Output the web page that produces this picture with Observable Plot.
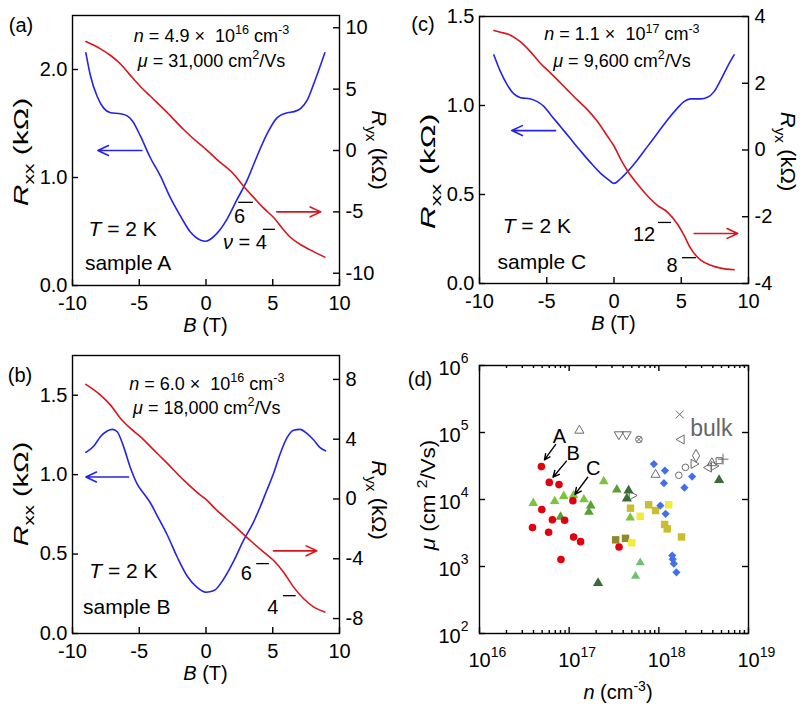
<!DOCTYPE html>
<html>
<head>
<meta charset="utf-8">
<script src="https://cdn.jsdelivr.net/npm/d3@7"></script>
<script src="https://cdn.jsdelivr.net/npm/@observablehq/plot@0.6"></script>
<style>
  body { margin: 0; background: #fff; }
  #fig { position: relative; width: 805px; height: 715px; overflow: hidden; background: #fff; }
  #fig svg { position: absolute; overflow: visible; }
</style>
</head>
<body>
<div id="fig"></div>
<script>
// ---------- Magnetotransport traces (B in T, resistances in kOhm) ----------
const fieldTicks = [-10, -5, 0, 5, 10];

// sample A
const rxxFieldA = [-9.0, -8.65, -8.15, -7.65, -7.15, -6.4, -5.9, -5.5, -4.9, -4.2, -3.4, -2.7, -1.9, -1.2, -0.4, 0, 0.8, 1.6, 2.3, 3.1, 3.8, 4.6, 5.3, 6.1, 6.6, 7.1, 7.6, 8.05, 8.55, 8.9];
const rxxA = [2.155, 1.94, 1.75, 1.64, 1.60, 1.59, 1.57, 1.52, 1.38, 1.19, 1.01, 0.82, 0.64, 0.50, 0.42, 0.41, 0.48, 0.62, 0.79, 0.98, 1.19, 1.41, 1.55, 1.60, 1.61, 1.64, 1.72, 1.86, 2.03, 2.155];
const ryxFieldA = [-9.0, -7.9, -7.15, -6.4, -5.65, -4.9, -4.2, -2.9, -1.7, -0.4, 0, 0.8, 2.1, 2.8, 3.6, 4.3, 5.1, 5.8, 6.3, 7.1, 7.8, 8.9];
const ryxA = [8.88, 8.28, 7.74, 7.05, 6.1, 5.2, 4.46, 3.09, 1.73, 0.45, 0.1, -0.72, -1.95, -2.9, -3.86, -4.68, -5.5, -6.45, -7.05, -7.68, -8.1, -8.69];

// sample B
const rxxFieldB = [-9.0, -8.4, -7.9, -7.4, -7.0, -6.65, -6.15, -5.65, -5.15, -4.65, -4.15, -3.65, -2.9, -2.15, -1.4, -0.67, 0, 0.6, 1.3, 2.1, 2.8, 3.55, 4.05, 4.55, 5.05, 5.55, 6.05, 6.55, 7.05, 7.55, 8.05, 8.55, 8.95];
const rxxB = [1.14, 1.18, 1.24, 1.275, 1.285, 1.27, 1.17, 1.04, 0.94, 0.88, 0.82, 0.74, 0.62, 0.48, 0.36, 0.29, 0.26, 0.27, 0.34, 0.46, 0.585, 0.70, 0.795, 0.90, 1.005, 1.13, 1.23, 1.28, 1.285, 1.26, 1.22, 1.17, 1.15];
const ryxFieldB = [-9.0, -7.9, -7.15, -6.4, -5.65, -4.9, -3.9, -2.9, -1.67, -0.42, 0, 0.8, 2.07, 3.3, 4.3, 5.05, 5.8, 6.55, 7.3, 8.05, 8.9];
const ryxB = [7.67, 6.95, 6.28, 5.39, 4.72, 4.16, 3.27, 2.38, 1.26, 0.26, -0.03, -0.75, -1.75, -2.76, -3.54, -4.1, -4.88, -5.88, -6.66, -7.22, -7.56];

// sample C
const rxxFieldC = [-8.93, -8.44, -7.94, -7.44, -6.95, -6.2, -5.7, -5.2, -4.7, -3.97, -3.2, -2.48, -1.74, -0.99, -0.37, 0, 0.5, 1.0, 1.74, 2.48, 3.23, 3.97, 4.7, 5.2, 5.7, 6.45, 6.95, 7.44, 7.94, 8.44, 8.93];
const rxxC = [1.284, 1.19, 1.116, 1.065, 1.044, 1.037, 1.022, 0.994, 0.947, 0.881, 0.81, 0.744, 0.679, 0.619, 0.581, 0.5625, 0.59, 0.628, 0.694, 0.769, 0.844, 0.919, 0.984, 1.022, 1.037, 1.037, 1.046, 1.078, 1.144, 1.219, 1.284];
const ryxFieldC = [-8.93, -8.44, -7.7, -6.95, -6.2, -5.46, -4.96, -4.2, -3.47, -2.73, -1.98, -1.24, -0.5, 0, 0.5, 1.0, 1.74, 2.48, 3.23, 3.97, 4.7, 5.2, 5.7, 6.45, 7.2, 7.94, 8.93];
const ryxC = [3.58, 3.53, 3.44, 3.24, 2.94, 2.59, 2.40, 2.10, 1.80, 1.50, 1.21, 0.86, 0.42, 0.12, -0.28, -0.62, -1.02, -1.37, -1.66, -1.86, -2.21, -2.55, -2.95, -3.30, -3.45, -3.54, -3.59];

// ---------- Mobility vs carrier density (n in cm^-3, mu in cm^2/Vs) ----------
const filmRedCircles = [[4.9e16, 31000], [6.0e16, 18000], [7.7e16, 16700], [1.1e17, 9600], [3.9e16, 3820], [4.95e16, 7080], [6.5e16, 4980], [5.9e16, 3250], [8.9e16, 4900], [8.1e16, 1270], [1.12e17, 2750], [1.34e17, 2350], [3.6e17, 1950]];
const filmLightGreen = [[3.98e16, 8800], [6.9e16, 9400], [8.7e16, 11200], [1.12e17, 11500], [1.46e17, 10000], [2.43e17, 18600], [4.8e17, 5340]];
const filmMidGreen = [[8.0e16, 5500], [1.74e17, 8100], [1.66e17, 6500], [3.4e17, 14000]];
const filmDarkGreen = [[4.6e17, 13600], [4.4e17, 10300], [4.7e18, 19500], [2.1e17, 565]];
const filmPaleGreen = [[6.2e17, 1140], [5.5e17, 716]];
const filmOlive = [[4.83e17, 7420], [7.7e17, 8340], [9.2e17, 6850], [1.16e18, 4240], [1.24e18, 3640], [1.79e18, 2760]];
const filmYellow = [[6.2e17, 5620], [1.29e18, 8340], [5.0e17, 2260]];
const filmDarkOlive = [[3.3e17, 2500], [4.25e17, 2630]];
const filmBlue = [[8.8e17, 33800], [1.17e18, 27000], [1.14e18, 17500], [2.35e18, 22000], [1.93e18, 15000], [1.04e18, 8130], [1.19e18, 6120], [1.41e18, 1460], [1.43e18, 1280], [1.47e18, 1100], [1.57e18, 820]];
const bulkTriUp = [[1.3e17, 107000], [9.2e17, 23500], [3.9e18, 35000]];
const bulkTriDown = [[3.58e17, 93500], [4.37e17, 93500]];
const bulkTriLeft = [[1.79e18, 78700], [3.6e18, 30000]];
const bulkTriRight = [[2.45e18, 34000], [4.1e18, 31700], [5.0e17, 11500]];
const bulkCircle = [[1.67e18, 23000], [1.98e18, 30200]];
const bulkCircleTimes = [[6.0e17, 78700]];
const bulkTimes = [[1.71e18, 186000]];
const bulkDiamond = [[2.6e18, 45000]];
const bulkSquare = [[4.7e18, 38000]];
const bulkPlus = [[5.2e18, 40000]];
const densityTicks = [1e16, 1e17, 1e18, 1e19];
const mobilityTicks = [1e2, 1e3, 1e4, 1e5, 1e6];

// ---------- styling ----------
const FONT = "'Liberation Sans', Arial, Helvetica, sans-serif";
const BLUE = "#2424e8", RED = "#d8161c", GRAY = "#6a6a6a";
const fig = document.getElementById("fig");

// text with italic / superscript / subscript runs, centred on (x, y)
function rich(svg, x, y, parts, o = {}) {
  const size = o.size ?? 18;
  const t = d3.select(svg).append("text")
    .attr("transform", `translate(${x},${y}) rotate(${o.rotate ?? 0}) scale(${o.stretch ?? 1},1)`)
    .attr("text-anchor", o.anchor ?? "middle")
    .attr("font-family", FONT).attr("font-size", size)
    .attr("fill", o.fill ?? "black")
    .attr("y", 0.35 * size)
    .style("white-space", "pre");
  let shift = 0;
  for (const p of parts) {
    const q = typeof p === "string" ? {t: p} : p;
    const target = q.sup ? -0.42 * size : q.sub ? 0.28 * size : 0;
    t.append("tspan").attr("dy", target - shift)
      .attr("font-size", q.sup || q.sub ? 0.7 * size : size)
      .attr("font-style", q.i ? "italic" : null)
      .text(q.t);
    shift = target;
  }
  return t;
}

function place(svg, left, top) {
  svg.style.left = left + "px";
  svg.style.top = top + "px";
  fig.appendChild(svg);
}

// inward-pointing tick marks: ticks span the frame, inset to a short stub on one side
const ticksX = (anchor, ticks, len, innerH) => Plot.tickX(ticks, {
  x: d => d, stroke: "black", strokeWidth: 1.4,
  insetTop: anchor === "bottom" ? innerH - len : 0,
  insetBottom: anchor === "top" ? innerH - len : 0
});
const ticksY = (anchor, ticks, len, innerW) => Plot.tickY(ticks, {
  y: d => d, stroke: "black", strokeWidth: 1.4,
  insetRight: anchor === "left" ? innerW - len : 0,
  insetLeft: anchor === "right" ? innerW - len : 0
});

// one R_xx / R_yx panel sharing the field axis
function transportPanel(s) {
  const k = (s.rxxDomain[1] - s.rxxDomain[0]) / (s.ryxDomain[1] - s.ryxDomain[0]);
  const toL = v => s.rxxDomain[0] + (v - s.ryxDomain[0]) * k;
  const fromL = v => s.ryxDomain[0] + (v - s.rxxDomain[0]) / k;
  const rxx = s.rxxField.map((b, i) => ({b, r: s.rxx[i]}));
  const ryx = s.ryxField.map((b, i) => ({b, r: toL(s.ryx[i])}));
  const ryxTickPos = s.ryxTicks.map(toL);
  const innerW = s.width - s.margin[0] - s.margin[1];
  const innerH = s.height - s.margin[2] - s.margin[3];
  const plot = Plot.plot({
    width: s.width, height: s.height,
    marginLeft: s.margin[0], marginRight: s.margin[1], marginTop: s.margin[2], marginBottom: s.margin[3],
    style: {fontFamily: FONT, fontSize: "20px", background: "transparent", color: "black"},
    x: {domain: [-10, 10]},
    y: {domain: s.rxxDomain},
    marks: [
      Plot.line(rxx, {x: "b", y: "r", stroke: BLUE, strokeWidth: 1.6, curve: "monotone-x"}),
      Plot.line(ryx, {x: "b", y: "r", stroke: RED, strokeWidth: 1.6, curve: "monotone-x"}),
      Plot.arrow([s.rxxArrow], {x1: "from", x2: "to", y1: "r", y2: "r", stroke: BLUE, strokeWidth: 1.6, headLength: 11, headAngle: 50}),
      Plot.arrow([s.ryxArrow], {x1: "from", x2: "to", y1: d => toL(d.r), y2: d => toL(d.r), stroke: RED, strokeWidth: 1.6, headLength: 11, headAngle: 50}),
      Plot.ruleY(s.levels, {y: "barR", x1: "bar1", x2: "bar2", stroke: "black", strokeWidth: 1.3}),
      ticksX("bottom", fieldTicks, 6, innerH),
      ticksY("left", s.rxxTicks, 6, innerW),
      ticksY("right", ryxTickPos, 6, innerW),
      Plot.axisX({ticks: fieldTicks, tickSize: 0, tickPadding: 10, tickFormat: d => String(d), label: null}),
      Plot.axisY({anchor: "left", ticks: s.rxxTicks, tickSize: 0, tickPadding: 5, tickFormat: d => d.toFixed(1), label: null}),
      Plot.axisY({anchor: "right", ticks: ryxTickPos, tickSize: 0, tickPadding: 6, tickFormat: v => String(Math.round(fromL(v))), label: null}),
      Plot.frame({stroke: "black", strokeWidth: 1.4})
    ]
  });
  const X = plot.scale("x"), Y = plot.scale("y");
  const px = (b, r) => [X.apply(b), Y.apply(r)];
  const midX = s.margin[0] + innerW / 2, midY = s.margin[2] + innerH / 2;

  rich(plot, ...px(s.info.b, s.info.r1), [{t: "n", i: true}, ` = ${s.info.n} ×  `, "10", {t: s.info.exp, sup: true}, " cm", {t: "-3", sup: true}], {size: 18});
  rich(plot, ...px(s.info.b, s.info.r2), [{t: "μ", i: true}, ` = ${s.info.mu} cm`, {t: "2", sup: true}, "/Vs"], {size: 18});
  rich(plot, ...px(s.temp.b, s.temp.r), [{t: "T", i: true}, " = 2 K"], {size: 21});
  rich(plot, ...px(s.name.b, s.name.r), [s.name.t], {size: 21});
  for (const l of s.levels) rich(plot, ...px(l.b, l.r), l.parts, {size: 20});

  rich(plot, s.titlePos[0], s.titlePos[1], [s.title], {size: 20});
  rich(plot, s.margin[0] - s.leftLabelGap, midY + s.leftLabelDy, [{t: "R", i: true}, {t: "xx", sub: true}, " (kΩ)"], {size: 20, rotate: -90, stretch: s.leftStretch});
  rich(plot, s.width - s.margin[1] + s.rightLabelGap, midY + s.rightLabelDy, [{t: "R", i: true}, {t: "yx", sub: true}, " (kΩ)"], {size: 20, rotate: 90, stretch: 1.1});
  rich(plot, midX, s.height - s.margin[3] + 40, [{t: "B", i: true}, " (T)"], {size: 20});
  place(plot, s.left, s.top);
}

transportPanel({
  left: 0, top: 0, width: 400, height: 340, margin: [72, 61, 15, 55],
  rxxDomain: [0, 2.5], ryxDomain: [-11, 11], rxxTicks: [0, 1, 2], ryxTicks: [-10, -5, 0, 5, 10],
  rxxField: rxxFieldA, rxx: rxxA, ryxField: ryxFieldA, ryx: ryxA,
  rxxArrow: {from: -4.8, to: -8.1, r: 1.25}, ryxArrow: {from: 5.3, to: 8.6, r: -5},
  levels: [
    {parts: ["6"], b: 2.56, r: 0.64, bar1: 2.45, bar2: 3.55, barR: 0.77},
    {parts: [{t: "ν", i: true}, " = 4"], b: 2.95, r: 0.40, bar1: 4.3, bar2: 5.2, barR: 0.52}
  ],
  info: {n: "4.9", exp: "16", mu: "31,000", b: 0.45, r1: 2.31, r2: 2.08},
  temp: {b: -6.2, r: 0.52}, name: {t: "sample A", b: -5.8, r: 0.21},
  title: "(a)", titlePos: [21, 25],
  leftLabelGap: 51, leftLabelDy: 2, leftStretch: 1.5, rightLabelGap: 40, rightLabelDy: 0
});

transportPanel({
  left: 0, top: 340, width: 400, height: 375, margin: [72, 61, 15, 82],
  rxxDomain: [0, 1.75], ryxDomain: [-9, 9.6], rxxTicks: [0, 0.5, 1, 1.5], ryxTicks: [-8, -4, 0, 4, 8],
  rxxField: rxxFieldB, rxx: rxxB, ryxField: ryxFieldB, ryx: ryxB,
  rxxArrow: {from: -5.8, to: -9.0, r: 0.985}, ryxArrow: {from: 5.05, to: 8.3, r: -3.47},
  levels: [
    {parts: ["6"], b: 3.05, r: 0.375, bar1: 3.8, bar2: 4.75, barR: 0.44},
    {parts: ["4"], b: 5.05, r: 0.164, bar1: 5.8, bar2: 6.75, barR: 0.238}
  ],
  info: {n: "6.0", exp: "16", mu: "18,000", b: 0.1, r1: 1.57, r2: 1.42},
  temp: {b: -6.15, r: 0.39}, name: {t: "sample B", b: -5.9, r: 0.164},
  title: "(b)", titlePos: [20, 35],
  leftLabelGap: 51, leftLabelDy: 0, leftStretch: 1.45, rightLabelGap: 40, rightLabelDy: 6
});

transportPanel({
  left: 400, top: 0, width: 405, height: 340, margin: [79, 57, 16, 57],
  rxxDomain: [0, 1.5], ryxDomain: [-4, 4], rxxTicks: [0, 0.5, 1, 1.5], ryxTicks: [-4, -2, 0, 2, 4],
  rxxField: rxxFieldC, rxx: rxxC, ryxField: ryxFieldC, ryx: ryxC,
  rxxArrow: {from: -4.34, to: -7.6, r: 0.859}, ryxArrow: {from: 5.96, to: 9.2, r: -2.5},
  levels: [
    {parts: ["12"], b: 2.27, r: 0.275, bar1: 3.31, bar2: 4.28, barR: 0.343},
    {parts: ["8"], b: 4.35, r: 0.10, bar1: 5.09, bar2: 6.13, barR: 0.145}
  ],
  info: {n: "1.1", exp: "17", mu: "9,600", b: 0.63, r1: 1.40, r2: 1.25},
  temp: {b: -5.7, r: 0.32}, name: {t: "sample C", b: -5.33, r: 0.122},
  title: "(c)", titlePos: [23, 24],
  leftLabelGap: 51, leftLabelDy: 22, leftStretch: 1.6, rightLabelGap: 40, rightLabelDy: 2
});

// ---------- panel (d): mobility vs density ----------
const rt3 = Math.sqrt(3);
const triGeom = s => { const a = Math.sqrt(s * 4 / rt3); return [a, a * rt3 / 2]; };
const triDown = {draw(c, s) { const [a, h] = triGeom(s); c.moveTo(-a / 2, -h / 3); c.lineTo(a / 2, -h / 3); c.lineTo(0, 2 * h / 3); c.closePath(); }};
const triLeft = {draw(c, s) { const [a, h] = triGeom(s); c.moveTo(-2 * h / 3, 0); c.lineTo(h / 3, -a / 2); c.lineTo(h / 3, a / 2); c.closePath(); }};
const triRight = {draw(c, s) { const [a, h] = triGeom(s); c.moveTo(2 * h / 3, 0); c.lineTo(-h / 3, -a / 2); c.lineTo(-h / 3, a / 2); c.closePath(); }};
const circleTimes = {draw(c, s) { const r = Math.sqrt(s / Math.PI), q = r * 0.7; c.moveTo(r, 0); c.arc(0, 0, r, 0, 2 * Math.PI); c.moveTo(-q, -q); c.lineTo(q, q); c.moveTo(q, -q); c.lineTo(-q, q); }};

const minorDensity = [];
for (let e = 16; e < 19; e++) for (let m = 2; m <= 9; m++) minorDensity.push(m * 10 ** e);

const hollow = (data, symbol, r = 3.4) => Plot.dot(data, {x: d => d[0], y: d => d[1], symbol, r, fill: "none", stroke: GRAY, strokeWidth: 1});
const filled = (data, symbol, fill, r) => Plot.dot(data, {x: d => d[0], y: d => d[1], symbol, r, fill, stroke: "none"});

const arrowsD = [
  {label: "A", n: 7.9e16, mu: 87000, n1: 7.05e16, mu1: 66000, n2: 5.3e16, mu2: 39000},
  {label: "B", n: 1.12e17, mu: 48000, n1: 9.33e16, mu1: 37400, n2: 6.6e16, mu2: 21500},
  {label: "C", n: 1.88e17, mu: 28700, n1: 1.61e17, mu1: 21500, n2: 1.16e17, mu2: 11900}
];

const dW = 405 - 79 - 57, dH = 375 - 25 - 82;
const plotD = Plot.plot({
  width: 405, height: 375, marginLeft: 79, marginRight: 57, marginTop: 25, marginBottom: 82,
  style: {fontFamily: FONT, fontSize: "20px", background: "transparent", color: "black"},
  x: {type: "log", domain: [1e16, 1e19]},
  y: {type: "log", domain: [1e2, 1e6]},
  marks: [
    hollow(bulkTriUp, "triangle"),
    hollow(bulkTriDown, triDown),
    hollow(bulkTriLeft, triLeft),
    hollow(bulkTriRight, triRight),
    hollow(bulkCircle, "circle", 3.3),
    hollow(bulkCircleTimes, circleTimes, 3.3),
    hollow(bulkTimes, "times", 3.6),
    hollow(bulkDiamond, "diamond", 3.8),
    hollow(bulkSquare, "square", 3.4),
    hollow(bulkPlus, "plus", 3.6),
    filled(filmDarkOlive, "square", "#8e8a2c", 4.2),
    filled(filmOlive, "square", "#c9be2f", 4.2),
    filled(filmYellow, "square", "#f0ec3a", 4.2),
    filled(filmPaleGreen, "triangle", "#6fc070", 3.4),
    filled(filmLightGreen, "triangle", "#7cc43c", 3.6),
    filled(filmMidGreen, "triangle", "#57a034", 3.6),
    filled(filmDarkGreen, "triangle", "#3a6c37", 3.8),
    filled(filmBlue, "diamond2", "#4270ec", 3.7),
    filled(filmRedCircles, "circle", "#e2000e", 3.8),
    Plot.arrow(arrowsD, {x1: "n1", y1: "mu1", x2: "n2", y2: "mu2", stroke: "black", strokeWidth: 1.4, headLength: 9, headAngle: 50}),
    ticksX("bottom", densityTicks, 6, dH),
    ticksX("bottom", minorDensity, 3, dH),
    ticksX("top", densityTicks, 6, dH),
    ticksX("top", minorDensity, 3, dH),
    ticksY("left", mobilityTicks, 6, dW),
    ticksY("right", mobilityTicks, 6, dW),
    Plot.axisX({anchor: "bottom", ticks: densityTicks, tickSize: 0, tickPadding: 19, tickFormat: d => String(Math.round(Math.log10(d))), label: null}),
    Plot.axisY({anchor: "left", ticks: mobilityTicks, tickSize: 0, tickPadding: 11, tickFormat: d => String(Math.round(Math.log10(d))), label: null}),
    Plot.frame({stroke: "black", strokeWidth: 1.4})
  ]
});

// powers of ten on the log axes: "10" with the exponent raised
for (const el of plotD.querySelectorAll('[aria-label="x-axis tick label"] text, [aria-label="y-axis tick label"] text')) {
  const e = el.textContent;
  if (!e) continue;
  const isX = el.closest('[aria-label="x-axis tick label"]') !== null;
  el.textContent = "";
  const s = d3.select(el);
  const base = s.append("tspan").text("10");
  if (isX) { s.attr("text-anchor", "start"); base.attr("dx", -11); }
  else base.attr("dy", 3);
  s.append("tspan").attr("dy", isX ? -10 : -12).attr("font-size", 14).text(e);
}

const XD = plotD.scale("x"), YD = plotD.scale("y");
for (const a of arrowsD) rich(plotD, XD.apply(a.n), YD.apply(a.mu), [a.label], {size: 20});
rich(plotD, XD.apply(3.9e18), YD.apply(114000), ["bulk"], {size: 23, fill: "#666"});
rich(plotD, 20, 39, ["(d)"], {size: 20});
rich(plotD, 28, 155, [{t: "μ", i: true}, " (cm ", {t: "2", sup: true}, "/Vs)"], {size: 20, rotate: -90, stretch: 1.12});
rich(plotD, 218, 352, [{t: "n", i: true}, " (cm", {t: "-3", sup: true}, ")"], {size: 20});
place(plotD, 400, 340);
</script>
</body>
</html>
